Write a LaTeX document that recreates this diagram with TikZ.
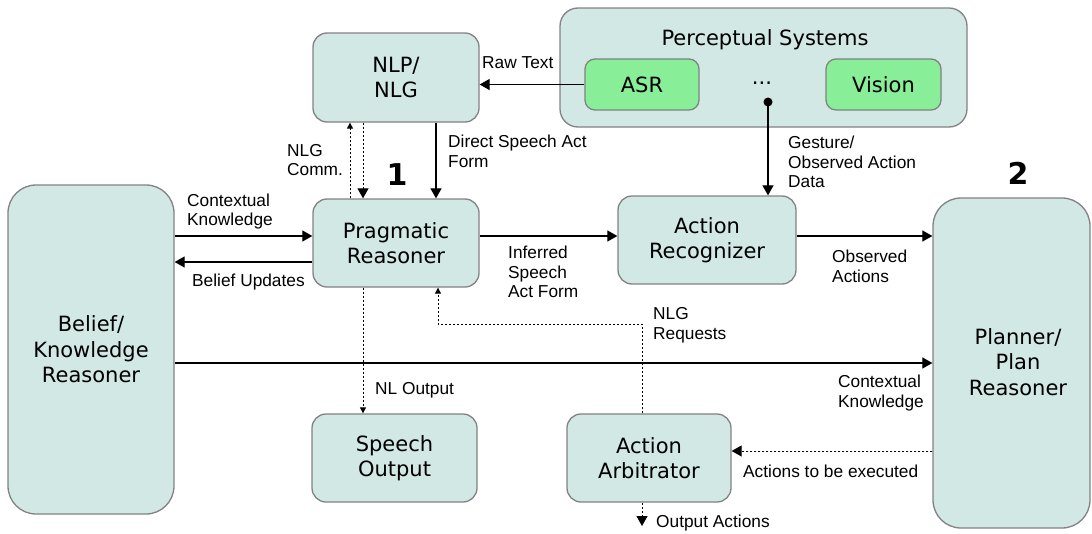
\documentclass[tikz,border=0pt]{standalone}
\usepackage{fontspec}
\setmainfont{DejaVu Sans}
\newfontfamily\lblfont{Liberation Sans}
\usetikzlibrary{arrows.meta}
\definecolor{boxfill}{RGB}{209,232,228}
\definecolor{boxline}{RGB}{130,130,130}
\definecolor{grn}{RGB}{136,238,152}
\begin{document}
\begin{tikzpicture}[x=1pt,y=-1pt,
 box/.style={draw=boxline, line width=1.3pt, fill=boxfill, rounded corners=14pt, align=center,
   font=\fontsize{21}{25.5}\selectfont, inner sep=0pt},
 tallbox/.style={box, rounded corners=28pt},
 gbox/.style={box, fill=grn, rounded corners=10pt},
 boxtext/.style={font=\fontsize{21}{25.5}\selectfont, inner sep=0pt, align=center},
 lbl/.style={font=\lblfont\fontsize{17.3}{19.5}\selectfont, align=left, inner sep=0pt, anchor=west},
 conn/.style={line width=1.2pt, -{Triangle[length=10pt,width=11pt]}},
 dconn/.style={line width=1pt, dash pattern=on 2.5pt off 1.5pt, -{Triangle[length=6pt,width=6pt]}},
 dconnL/.style={line width=1pt, dash pattern=on 2.5pt off 1.5pt, -{Triangle[length=10pt,width=11pt]}},
 num/.style={font=\bfseries\fontsize{30}{30}\selectfont, inner sep=0pt}
]
\useasboundingbox (0,0) rectangle (1092,533);

% boxes
\node[box, minimum width=166pt, minimum height=89pt] (nlp) at (396,77.5) {NLP/\\NLG};
\node[box, minimum width=407pt, minimum height=119pt, rounded corners=18pt] (perc) at (763.5,67.5) {};
\node[boxtext] (perctitle) at (765,40) {Perceptual Systems};
\node[gbox, minimum width=114pt, minimum height=51pt] (asr) at (642,84.5) {ASR};
\node[gbox, minimum width=115pt, minimum height=51pt] (vision) at (883.5,84.5) {Vision};
\node[font=\fontsize{21}{25.5}\selectfont, inner sep=0pt, anchor=base] (dots) at (762,84) {...};
\coordinate (gd) at (768,102);
\fill (gd) circle (4.5pt);

\node[box, minimum width=166pt, minimum height=88pt] (prag) at (396,243) {Pragmatic\\Reasoner};
\node[tallbox, minimum width=166pt, minimum height=329pt] (belief) at (91,349.5) {Belief/\\Knowledge\\Reasoner};
\node[box, minimum width=178pt, minimum height=88pt] (actrec) at (707,240) {Action\\Recognizer};
\node[tallbox, minimum width=157pt, minimum height=330pt] (planner) at (1011.5,363) {};
\node[boxtext] (plannertext) at (1018,362) {Planner/\\Plan\\Reasoner};
\node[box, minimum width=165pt, minimum height=88pt] (speech) at (394.5,458) {Speech\\Output};
\node[box, minimum width=164pt, minimum height=88pt] (arb) at (649,458) {Action\\Arbitrator};

% numbers
\node[num] (n1) at (397,175) {1};
\node[num] (n2) at (1018,173) {2};

% connectors
\draw[conn] (asr.west) -- (asr.west -| nlp.east);
\draw[conn] ([xshift=40pt]nlp.south) -- ([xshift=40pt]prag.north);
\draw[dconn] ([xshift=-46pt]prag.north) -- ([xshift=-46pt]nlp.south);
\draw[dconnL] ([xshift=-33pt]nlp.south) -- ([xshift=-33pt]prag.north);

\coordinate (ck) at ([yshift=7pt]prag.west);
\draw[conn] (belief.east |- ck) -- (ck);
\coordinate (bu) at ([yshift=-19pt]prag.west);
\draw[conn] (bu) -- (bu -| belief.east);

\coordinate (ia) at ([yshift=7pt]prag.east);
\draw[conn] (ia) -- (ia -| actrec.west);
\draw[conn] (ia -| actrec.east) -- (ia -| planner.west);

\draw[conn] (belief.east |- planner.west) -- (planner.west);

\draw[conn] (gd) -- (gd |- actrec.north);

\draw[dconn] ([xshift=-33pt]prag.south) -- ([xshift=-31.5pt]speech.north);

\coordinate (nr) at ([xshift=-7pt]arb.north);
\coordinate (nrc) at (438,324);
\draw[dconn] (nr) |- (nrc) -- (nrc |- prag.south);

\coordinate (ae) at (planner.west |- 0,451);
\draw[dconnL] (ae) -- (ae -| arb.east);

\coordinate (oa) at (642,526);
\draw[dconnL] (nr |- arb.south) -- (oa);

% labels
\node[lbl] (l1) at (482,63) {Raw Text};
\node[lbl] (l2) at (448,151.5) {Direct Speech Act\\Form};
\node[lbl] (l3) at (287,160) {NLG\\Comm.};
\node[lbl] (l4) at (187,211.5) {Contextual\\Knowledge};
\node[lbl] (l5) at (192,282) {Belief Updates};
\node[lbl] (l6) at (508,272) {Inferred\\Speech\\Act Form};
\node[lbl] (l7) at (832,266.5) {Observed\\Actions};
\node[lbl] (l8) at (788,162) {Gesture/\\Observed Action\\Data};
\node[lbl] (l9) at (653,325) {NLG\\Requests};
\node[lbl] (l10) at (375,390) {NL Output};
\node[lbl] (l11) at (838,393) {Contextual\\Knowledge};
\node[lbl] (l12) at (743,471) {Actions to be executed};
\node[lbl] (l13) at (656,523) {Output Actions};
\end{tikzpicture}
\end{document}
